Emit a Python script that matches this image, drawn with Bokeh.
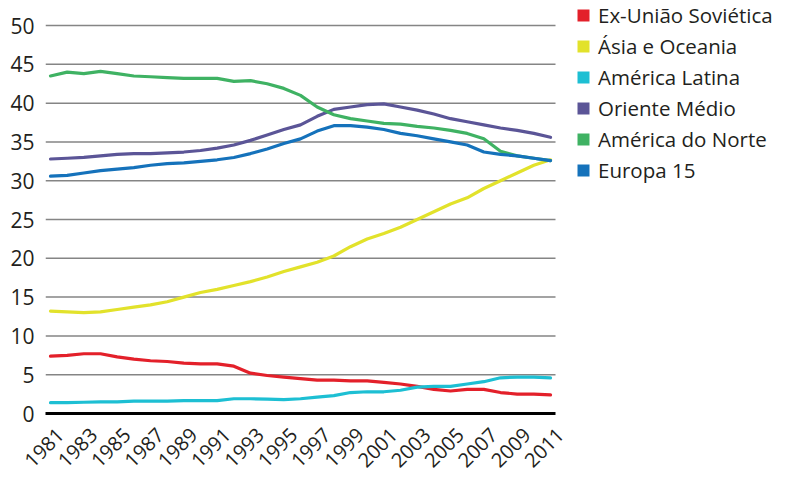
import math
from bokeh.plotting import figure
from bokeh.models import Range1d, FixedTicker, Legend, LegendItem, CustomJSTickFormatter
from bokeh.embed import file_html
from bokeh.resources import INLINE

years = list(range(1981, 2012))

ex_uniao_sovietica = [7.4, 7.5, 7.7, 7.7, 7.3, 7.0, 6.8, 6.7, 6.5, 6.4, 6.4, 6.1, 5.2, 4.9, 4.7,
                      4.5, 4.3, 4.3, 4.2, 4.2, 4.0, 3.8, 3.5, 3.1, 2.9, 3.1, 3.1, 2.7, 2.5, 2.5, 2.4]
asia_oceania = [13.2, 13.1, 13.0, 13.1, 13.4, 13.7, 14.0, 14.4, 15.0, 15.6, 16.0, 16.5, 17.0, 17.6, 18.3,
                18.9, 19.5, 20.3, 21.5, 22.5, 23.2, 24.0, 25.0, 26.0, 27.0, 27.8, 29.0, 30.0, 31.0, 32.0, 32.7]
america_latina = [1.4, 1.4, 1.45, 1.5, 1.5, 1.6, 1.6, 1.6, 1.65, 1.65, 1.65, 1.9, 1.9, 1.85, 1.8,
                  1.9, 2.1, 2.3, 2.7, 2.8, 2.8, 3.0, 3.4, 3.5, 3.5, 3.8, 4.1, 4.6, 4.7, 4.7, 4.6]
oriente_medio = [32.8, 32.9, 33.0, 33.2, 33.4, 33.5, 33.5, 33.6, 33.7, 33.9, 34.2, 34.6, 35.2, 35.9, 36.6,
                 37.2, 38.3, 39.2, 39.5, 39.8, 39.9, 39.5, 39.1, 38.6, 38.0, 37.6, 37.2, 36.8, 36.5, 36.1, 35.6]
america_norte = [43.5, 44.0, 43.8, 44.1, 43.8, 43.5, 43.4, 43.3, 43.2, 43.2, 43.2, 42.8, 42.9, 42.5, 41.9,
                 41.0, 39.5, 38.5, 38.0, 37.7, 37.4, 37.3, 37.0, 36.8, 36.5, 36.1, 35.4, 33.8, 33.2, 32.9, 32.6]
europa_15 = [30.6, 30.7, 31.0, 31.3, 31.5, 31.7, 32.0, 32.2, 32.3, 32.5, 32.7, 33.0, 33.5, 34.1, 34.8,
             35.4, 36.4, 37.1, 37.1, 36.9, 36.6, 36.1, 35.8, 35.4, 35.0, 34.6, 33.7, 33.4, 33.2, 32.9, 32.6]

series_names = ["Ex-União Soviética", "Ásia e Oceania", "América Latina",
                "Oriente Médio", "América do Norte", "Europa 15"]
series_values = [ex_uniao_sovietica, asia_oceania, america_latina,
                 oriente_medio, america_norte, europa_15]
series_colors = ["#e3202a", "#e2e22b", "#1dbfd3", "#5b5597", "#3fb263", "#1572bb"]

x_ticks = years[::2]
y_ticks = [0, 5, 10, 15, 20, 25, 30, 35, 40, 45, 50]

FONT = "Open Sans"
TEXT_COLOR = "#231f20"

PX_PER_YEAR = 16.667
FRAME_W = 743
X0 = 1980.7
X_GRID_END = 2011.3
X1 = X0 + FRAME_W / PX_PER_YEAR
LABEL_SHIFT = 0.6  # rotated year labels sit slightly right of their year

p = figure(frame_width=FRAME_W, frame_height=413, output_backend="svg", toolbar_location=None,
           x_range=Range1d(X0, X1), y_range=Range1d(0, 53.23),
           min_border_left=45, min_border_right=0, min_border_top=0, min_border_bottom=64)
p.outline_line_color = None
p.background_fill_color = "white"
p.border_fill_color = "white"

# axes
p.xaxis.ticker = FixedTicker(ticks=[t + LABEL_SHIFT for t in x_ticks])
p.xaxis.formatter = CustomJSTickFormatter(args=dict(shift=LABEL_SHIFT),
                                          code="return (tick - shift).toFixed(0);")
p.xaxis.bounds = (X0, X_GRID_END)
p.xaxis.major_label_orientation = math.pi / 4
p.xaxis.axis_line_color = "black"
p.xaxis.axis_line_width = 3
p.xaxis.major_tick_line_color = None
p.xaxis.minor_tick_line_color = None
p.xaxis.major_label_text_font = FONT
p.xaxis.major_label_text_font_size = "20px"
p.xaxis.major_label_text_color = TEXT_COLOR
p.xaxis.major_label_standoff = 12

p.yaxis.ticker = FixedTicker(ticks=y_ticks)
p.yaxis.axis_line_color = None
p.yaxis.major_tick_line_color = None
p.yaxis.minor_tick_line_color = None
p.yaxis.major_label_text_font = FONT
p.yaxis.major_label_text_font_size = "21px"
p.yaxis.major_label_text_color = TEXT_COLOR
p.yaxis.major_label_standoff = 5

p.xgrid.grid_line_color = None
p.ygrid.grid_line_color = None

# horizontal grid lines limited to the plotting area
grid_vals = y_ticks[1:]
p.segment(x0=[X0] * len(grid_vals), x1=[X_GRID_END] * len(grid_vals),
          y0=grid_vals, y1=grid_vals, line_color="#858585", line_width=1.5)

items = []
for name, vals, col in zip(series_names, series_values, series_colors):
    p.line(years, vals, line_color=col, line_width=3.2, line_join="round", line_cap="round")
    sq = p.scatter(x=[years[0]], y=[-100], marker="square", size=12, fill_color=col, line_color=None)
    items.append(LegendItem(label=name, renderers=[sq]))

legend = Legend(items=items, location=(523, 228), orientation="vertical",
                glyph_width=30, glyph_height=30, label_height=22, spacing=1,
                label_standoff=0, padding=0, margin=0,
                border_line_color=None, background_fill_alpha=0,
                label_text_font=FONT, label_text_font_size="20.5px",
                label_text_color=TEXT_COLOR)
p.add_layout(legend, "center")

open("out.html", "w").write(file_html(p, INLINE))
